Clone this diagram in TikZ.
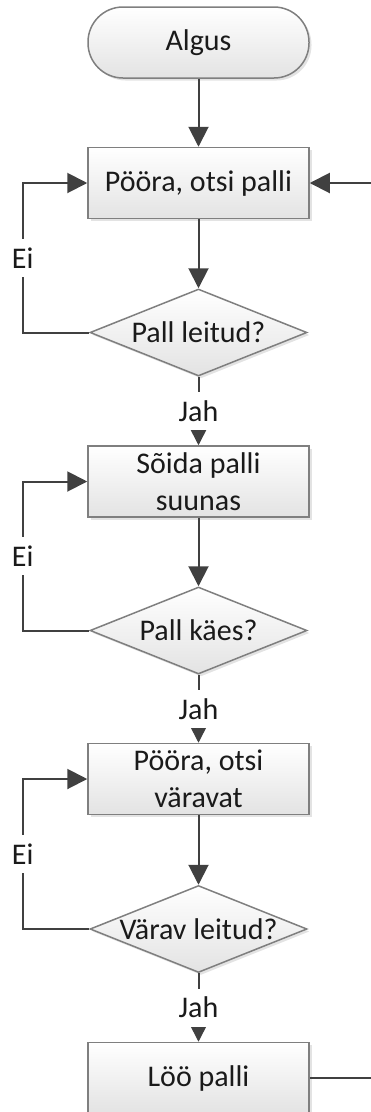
\documentclass[tikz,border=0pt]{standalone}
\usepackage{fontspec}
\setmainfont{Carlito}
\usetikzlibrary{arrows.meta,shapes.geometric,shadows}
\definecolor{ln}{HTML}{404040}
\definecolor{bd}{HTML}{7F7F7F}
\definecolor{tx}{HTML}{1A1A1A}
\tikzset{
  shape base/.style={draw=bd, line width=1.5pt, top color=white, bottom color=black!11,
    text=tx, font=\fontsize{30}{37}\selectfont, align=center,
    drop shadow={shadow xshift=2.5pt, shadow yshift=-2.5pt, fill=black!18, opacity=0.6}},
  proc/.style={shape base, rectangle, minimum width=221pt, minimum height=71pt, inner sep=2pt},
  term/.style={shape base, rectangle, rounded corners=35pt, minimum width=221pt, minimum height=71pt},
  dec/.style={shape base, diamond, aspect=2.5, minimum width=217pt, minimum height=87pt, inner sep=0pt},
  conn/.style={draw=ln, line width=2pt},
  arr/.style={conn, -{Triangle[length=20pt,width=20pt]}},
  lbl/.style={fill=white, text=tx, font=\fontsize{30}{37}\selectfont, inner sep=0pt, minimum height=38pt, minimum width=20pt}
}
\begin{document}
\begin{tikzpicture}[x=1pt,y=-1pt]
\useasboundingbox (0,0) rectangle (371,1112);
\node[term] (start) at (198.5,42.5) {Algus};
\node[proc] (b1) at (198.5,183) {Pööra, otsi palli};
\node[dec] (d1) at (198.5,332.5) {Pall leitud?};
\node[proc] (b2) at (198.5,481.5) {Sõida palli\\suunas};
\node[dec] (d2) at (198.5,630.5) {Pall käes?};
\node[proc] (b3) at (198.5,779) {Pööra, otsi\\väravat};
\node[dec] (d3) at (198.5,929) {Värav leitud?};
\node[proc] (b4) at (198.5,1078) {Löö palli};
\coordinate (L) at (22.7,0);
\coordinate (R1) at (371,183);
\coordinate (R4) at (371,1078);
% main flow
\draw[arr] (start) -- (b1);
\draw[arr] (b1) -- (d1);
\draw[arr] (d1.south) -- node[lbl]{Jah} (b2.north);
\draw[arr] (b2) -- (d2);
\draw[arr] (d2.south) -- node[lbl]{Jah} (b3.north);
\draw[arr] (b3) -- (d3);
\draw[arr] (d3.south) -- node[lbl]{Jah} (b4.north);
% loops
\draw[arr] (d1.west) -- (d1.west -| L) |- node[lbl, pos=0.25]{Ei} (b1.west);
\draw[arr] (d2.west) -- (d2.west -| L) |- node[lbl, pos=0.25]{Ei} (b2.west);
\draw[arr] (d3.west) -- (d3.west -| L) |- node[lbl, pos=0.25]{Ei} (b3.west);
% external connectors
\draw[arr] (R1) -- (b1.east);
\draw[conn] (b4.east) -- (R4);
\end{tikzpicture}
\end{document}
